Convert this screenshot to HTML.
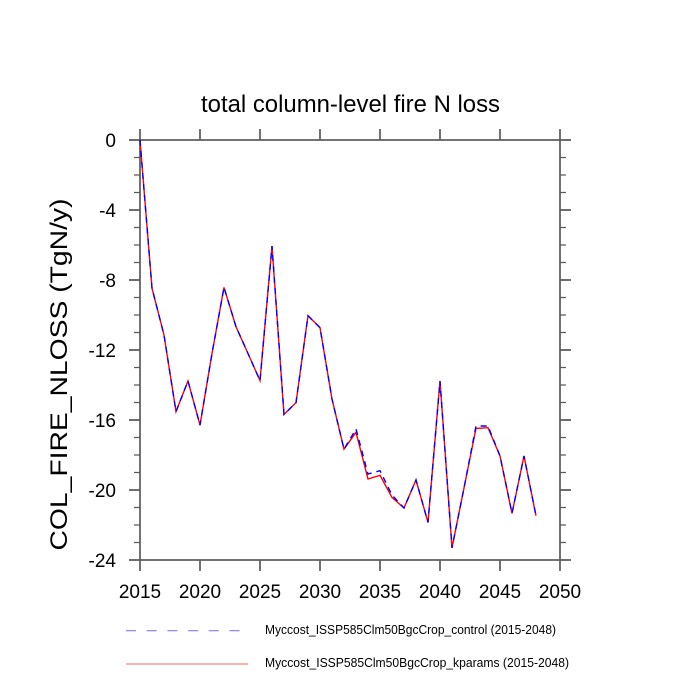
<!DOCTYPE html>
<html><head><meta charset="utf-8"><style>
html,body{margin:0;padding:0;background:#fff;}
svg{display:block;}
text{font-family:"Liberation Sans",sans-serif;fill:#000;}
</style></head><body>
<svg width="700" height="700" viewBox="0 0 700 700" xmlns="http://www.w3.org/2000/svg">
<rect width="700" height="700" fill="#fff"/>
<!-- title -->
<text x="350.5" y="112" font-size="24" text-anchor="middle" textLength="299" lengthAdjust="spacingAndGlyphs">total column-level fire N loss</text>
<!-- y label -->
<text transform="translate(67,374.5) rotate(-90)" x="0" y="0" font-size="24.5" text-anchor="middle" textLength="352" lengthAdjust="spacingAndGlyphs">COL_FIRE_NLOSS  (TgN/y)</text>

<!-- axes box -->
<g stroke="#5a5a5a" stroke-width="1.7" fill="none">
<rect x="140" y="140" width="420" height="420"/>
<path d="M140 140V129M200 140V129M260 140V129M320 140V129M380 140V129M440 140V129M500 140V129M560 140V129"/>
<path d="M140 560V571M200 560V571M260 560V571M320 560V571M380 560V571M440 560V571M500 560V571M560 560V571"/>
<path d="M140 140H129M140 210H129M140 280H129M140 350H129M140 420H129M140 490H129M140 560H129"/>
<path d="M560 140H571M560 210H571M560 280H571M560 350H571M560 420H571M560 490H571M560 560H571"/>
</g>
<g stroke="#5a5a5a" stroke-width="1.2" fill="none">
<path d="M140 157.5H134M140 175H134M140 192.5H134M140 227.5H134M140 245H134M140 262.5H134M140 297.5H134M140 315H134M140 332.5H134M140 367.5H134M140 385H134M140 402.5H134M140 437.5H134M140 455H134M140 472.5H134M140 507.5H134M140 525H134M140 542.5H134"/>
<path d="M560 157.5H566M560 175H566M560 192.5H566M560 227.5H566M560 245H566M560 262.5H566M560 297.5H566M560 315H566M560 332.5H566M560 367.5H566M560 385H566M560 402.5H566M560 437.5H566M560 455H566M560 472.5H566M560 507.5H566M560 525H566M560 542.5H566"/>
</g>

<!-- y tick labels -->
<g font-size="19" text-anchor="end">
<text x="116" y="147">0</text>
<text x="116" y="217">-4</text>
<text x="116" y="287">-8</text>
<text x="116" y="357">-12</text>
<text x="116" y="427">-16</text>
<text x="116" y="497">-20</text>
<text x="116" y="567">-24</text>
</g>
<!-- x tick labels -->
<g font-size="19" text-anchor="middle">
<text x="140" y="598">2015</text>
<text x="200" y="598">2020</text>
<text x="260" y="598">2025</text>
<text x="320" y="598">2030</text>
<text x="380" y="598">2035</text>
<text x="440" y="598">2040</text>
<text x="500" y="598">2045</text>
<text x="560" y="598">2050</text>
</g>

<!-- red solid series -->
<polyline fill="none" stroke="#ff0000" stroke-width="1.4"
points="140,140 152,288.2 164,335 176,411.6 188,381 200,425.1 212,353.5 224,287.4 236,326.7 248,353.5 260,380.6 272,246.1 284,414.4 296,402.7 308,315.7 320,327.6 332,399 344,449.2 356,432.3 368,479 380,475.3 392,497.4 404,508 416,480 428,522.4 440,381 452,547.8 464,488 476,428.4 488,427.7 500,456 512,513.3 524,456 536,515.7"/>
<!-- blue dashed series -->
<polyline fill="none" stroke="#0000ff" stroke-width="1.4" stroke-dasharray="6,5"
points="140,140 152,288.2 164,335 176,411.6 188,381 200,425.1 212,353.5 224,287.4 236,326.7 248,353.5 260,380.6 272,246.1 284,414.4 296,402.7 308,315.7 320,327.6 332,399 344,449.2 356,429 368,474 380,470.7 392,495 404,508 416,480 428,522.4 440,381 452,547.8 464,488 476,426 488,426 500,456 512,513.3 524,456 536,515.7"/>

<!-- legend -->
<line x1="126" y1="630.7" x2="240" y2="630.7" stroke="#7f7fff" stroke-width="1.2" stroke-dasharray="10,10.7"/>
<line x1="126" y1="664" x2="248" y2="664" stroke="#ff8080" stroke-width="1.2"/>
<text x="265" y="634" font-size="12.5" textLength="291" lengthAdjust="spacingAndGlyphs">Myccost_ISSP585Clm50BgcCrop_control (2015-2048)</text>
<text x="265" y="667" font-size="12.5" textLength="304" lengthAdjust="spacingAndGlyphs">Myccost_ISSP585Clm50BgcCrop_kparams (2015-2048)</text>
</svg>
</body></html>
